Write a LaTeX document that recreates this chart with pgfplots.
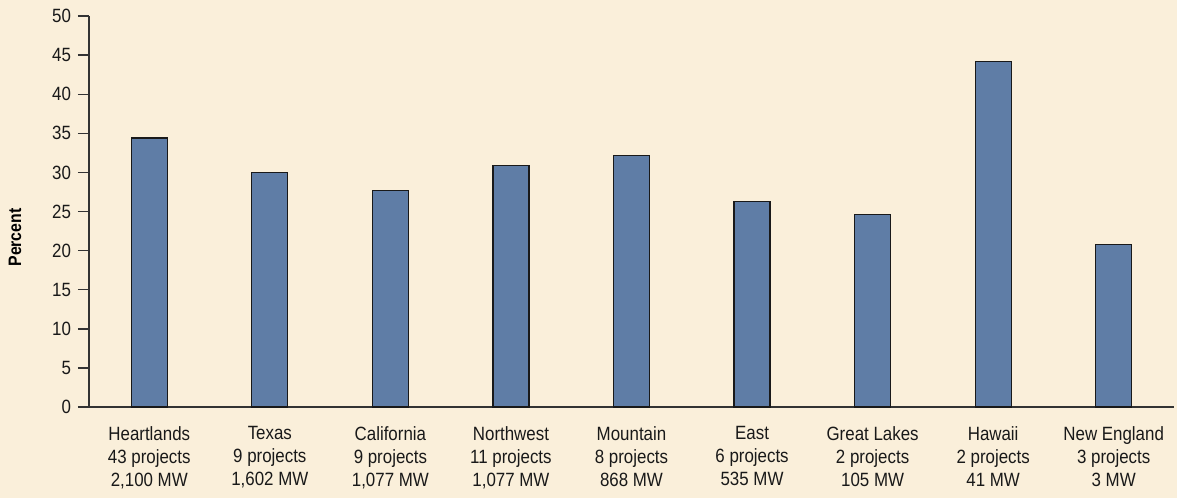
\documentclass[border=0pt]{standalone}
\usepackage{pgfplots}
\pgfplotsset{compat=1.18}
\usepackage{fontspec}
\setmainfont{Liberation Sans}[FakeStretch=0.88]
\definecolor{bgc}{HTML}{FAEFDA}
\definecolor{barc}{HTML}{5F7DA6}
\definecolor{axc}{HTML}{333333}
\begin{document}
\begin{tikzpicture}
\fill[bgc] (-44.5pt,-45.5pt) rectangle (544pt,203.5pt);
\useasboundingbox (-44.5pt,-45.5pt) rectangle (544pt,203.5pt);
\begin{axis}[
  scale only axis, width=542.5pt, height=195.5pt,
  ybar, bar width=18pt,
  xmin=-0.5, xmax=8.5, ymin=0, ymax=50,
  axis lines=left, axis line style={-, axc, line width=0.7pt},
  ytick={0,5,...,50},
  xtick={0,...,8},
  xticklabels={{Heartlands\\43 projects\\2,100 MW},{Texas\\9 projects\\1,602 MW},{California\\9 projects\\1,077 MW},{Northwest\\11 projects\\1,077 MW},{Mountain\\8 projects\\868 MW},{East\\6 projects\\535 MW},{Great Lakes\\2 projects\\105 MW},{Hawaii\\2 projects\\41 MW},{New England\\3 projects\\3 MW}},
  minor xtick={-0.5,0.5,...,8.5},
  xtick style={draw=none},
  minor x tick style={axc, line width=0.7pt},
  y tick style={axc, line width=0.7pt},
  tick align=outside,
  minor tick length=3pt, major tick length=5.5pt,
  xticklabel style={align=center, font=\fontsize{9.6}{11.5}\selectfont, text=black!90, yshift=-0.8pt},
  yticklabel style={font=\fontsize{9.6}{11.5}\selectfont, text=black!90},
  /pgf/number format/assume math mode=true,
  ylabel={\textbf{Percent}}, ylabel style={font=\fontsize{9}{11}\selectfont, at={(axis description cs:0,0.5)}, anchor=center, yshift=37pt, xshift=-13pt},
  clip=false,
]
\addplot[fill=barc, draw=black!90, line width=0.6pt] coordinates {(0,34.4) (1,30.0) (2,27.7) (3,30.9) (4,32.2) (5,26.3) (6,24.6) (7,44.2) (8,20.8)};
\end{axis}
\end{tikzpicture}
\end{document}
